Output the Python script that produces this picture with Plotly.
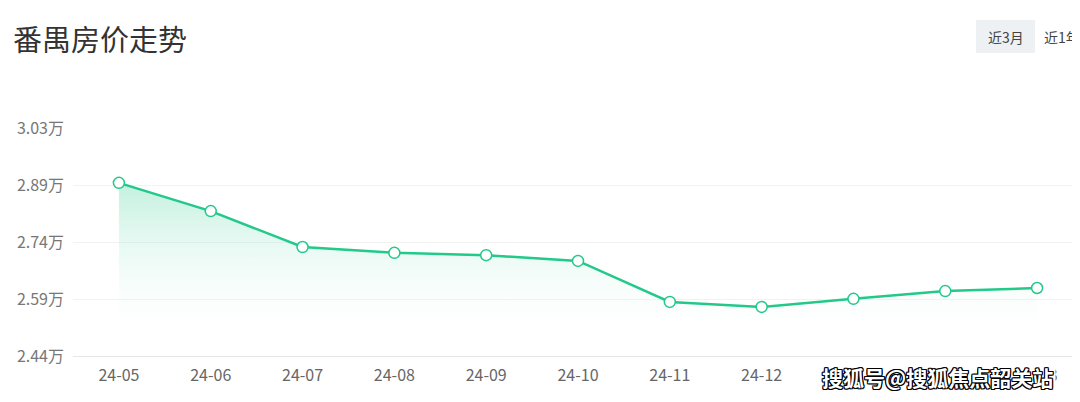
import plotly.graph_objects as go

months = ["24-05", "24-06", "24-07", "24-08", "24-09", "24-10", "24-11", "24-12", "25-01", "25-02", "25-03"]
prices = [2.888, 2.815, 2.722, 2.707, 2.701, 2.686, 2.580, 2.567, 2.588, 2.608, 2.616]
y_tickvals = [2.44, 2.5875, 2.735, 2.8825, 3.03]
y_ticktext = ["2.44万", "2.59万", "2.74万", "2.89万", "3.03万"]

green = "#22c98a"
FONT = "Noto Sans CJK SC"

# page offset of the figure inside the html body is 8px
def px(x):
    return (x - 73) / 1010

def py(y):
    return (356 - y) / 228

fig = go.Figure()
fig.add_trace(go.Scatter(
    x=months, y=prices, mode="lines+markers",
    line=dict(color=green, width=2.5),
    marker=dict(size=11, color="white", line=dict(color=green, width=1.5)),
    fill="tozeroy",
    fillgradient=dict(type="vertical", start=2.47, stop=2.89,
                      colorscale=[[0, "rgba(255,255,255,0)"], [1, "rgba(34,201,138,0.28)"]]),
    hoverinfo="skip",
))

fig.update_layout(
    width=1075, height=394,
    margin=dict(l=65, r=0, t=120, b=46),
    paper_bgcolor="white", plot_bgcolor="white",
    showlegend=False,
    font=dict(family=FONT, color="#666", size=16),
    xaxis=dict(
        type="category", range=[-0.5, 10.5],
        showgrid=False, zeroline=False,
        showline=True, linecolor="#e6e6e6", linewidth=1,
        ticks="", ticklabelstandoff=5,
        tickfont=dict(size=16, color="#666"),
    ),
    yaxis=dict(
        range=[2.44, 3.03],
        tickvals=y_tickvals, ticktext=y_ticktext,
        showgrid=True, gridcolor="#f2f2f2", gridwidth=1,
        zeroline=False, showline=False, ticks="",
        ticklabelstandoff=8,
        tickfont=dict(size=16, color="#777"),
    ),
    shapes=[
        dict(type="rect", xref="paper", yref="paper", x0=px(976), x1=px(1035),
             y0=py(53), y1=py(20),
             fillcolor="#eef1f4", line=dict(width=0), layer="above"),
    ],
    annotations=[
        dict(text="番禺房价走势", xref="paper", yref="paper",
             x=px(11), y=py(38), xanchor="left", yanchor="middle",
             showarrow=False, font=dict(size=29, color="#333", family=FONT)),
        dict(text="近3月", xref="paper", yref="paper",
             x=px(1005.5), y=py(37), xanchor="center", yanchor="middle",
             showarrow=False, font=dict(size=14, color="#444", family=FONT)),
        dict(text="近1年", xref="paper", yref="paper",
             x=px(1042), y=py(37), xanchor="left", yanchor="middle",
             showarrow=False, font=dict(size=14, color="#444", family=FONT)),
        dict(text="<b>搜狐号@搜狐焦点韶关站</b>", xref="paper", yref="paper",
             x=px(937), y=py(377), xanchor="center", yanchor="middle",
             showarrow=False, bgcolor="white", borderpad=2,
             font=dict(size=21, color="white", family=FONT,
                       shadow="1px 1px 0 #000, -1px -1px 0 #000, 1px -1px 0 #000, -1px 1px 0 #000, 0 1px 0 #000, 0 -1px 0 #000, 1px 0 0 #000, -1px 0 0 #000")),
    ],
)

fig.write_html("out.html")
